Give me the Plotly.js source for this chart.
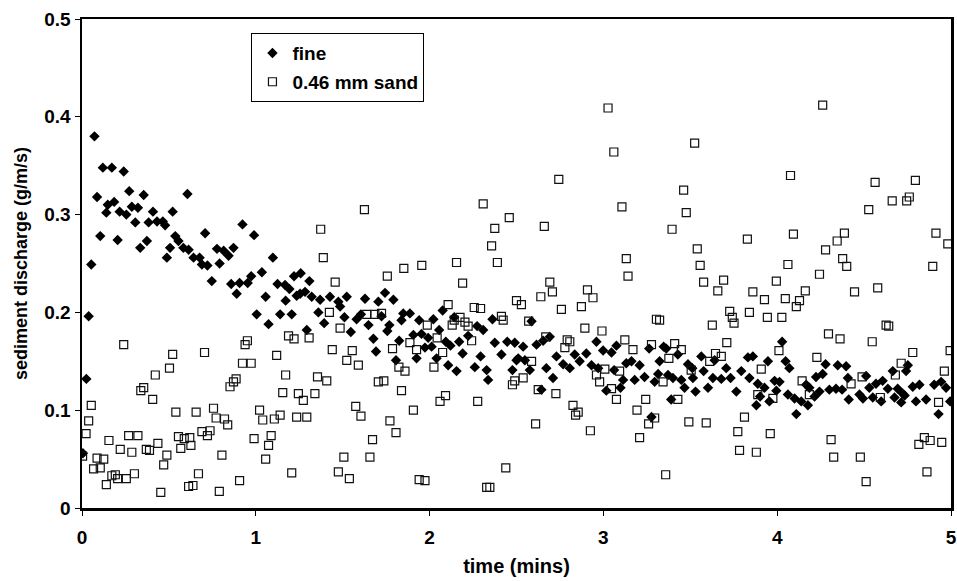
<!DOCTYPE html>
<html>
<head>
<meta charset="utf-8">
<script src="https://cdn.plot.ly/plotly-3.0.1.min.js"></script>
<style>
  html, body { margin: 0; padding: 0; background: #fff; }
  #chart { width: 957px; height: 581px; }
</style>
</head>
<body>
<div id="chart"></div>
<script>
// ---- data (time in seconds, discharge in g/m/s) ----
const seriesNames = ["fine", "0.46 mm sand"];

const fineTimeSec = [
  0.3,1.5,2.3,3.2,4.3,5.2,6.3,7.2,8.4,8.9,10.3,11.1,12.3,13,14.4,15.3,16.3,17.2,18.4,19.3,
  20.1,21.3,22.4,23,24.5,25.9,27.9,28.7,29.3,30.4,31.3,32.2,33.3,35,36.4,
  36.8,38.5,40.6,41.4,42.5,43.3,44.8,46.6,47.5,48.9,50.6,51.5,52.3,53.4,54.4,55.4,57.2,58.4,59.4,
  60.3,62.1,63.4,64.4,65.9,67.5,68.4,70.1,70.3,71.6,72.4,73.2,74.1,
  75.3,75.5,77,77.6,78.5,79.3,81.6,82.2,83.6,85.6,88.5,89.1,90.6,91.4,92.8,94.8,96.3,97.7,98.9,
  100.6,101.5,102.3,103.4,104.6,105.4,106.1,107.5,108.4,109.5,110.3,110.9,
  113.2,114.4,115.5,116.4,117.2,118.4,119.5,120.7,121.3,122.4,123.3,124.5,125.6,126.4,127.2,128.5,
  129.3,130.2,131.4,133.3,135.6,136.4,137.6,138.5,139.7,140.2,141.7,142.5,144.8,146.8,148.6,149.4,150,
  150.6,152.3,152.9,154.6,155.2,156.9,158.6,159.2,160.3,161.5,162.6,163.8,166.1,168.4,170.1,171.8,
  174.1,175.9,177.6,178.2,179.9,181,182.8,183.7,184.5,185.9,186.8,187.9,
  189.7,190.8,192.5,194.2,195.8,196.6,197.7,198.9,199.4,200.8,201.7,202.3,203.4,204,205.7,206.9,
  208,209.2,210.7,210.9,211.8,213.8,214.6,216.1,217.8,218.4,220.7,222.4,223.9,225.9,
  227.6,229.9,230.4,231.6,232.8,233.3,234.1,235.6,236.8,237.3,239.1,239.7,240.8,241.7,242.9,243.7,
  244.2,246,246.6,248.3,250,250.6,251.1,252.9,253.4,254.6,255.7,256.7,258,260.3,260.9,262.4,263.8,264.4,264.7,
  268.4,269.6,270.7,271.8,273,274.1,275.9,276.4,278.2,279.9,280.5,281.6,282.8,283.3,284,284.5,285.1,
  286.8,287.9,289.1,291.4,294.2,295.7,296.6,298.3,299.7
];
const fineDischarge = [
  0.056,0.132,0.196,0.249,0.380,0.318,0.278,0.348,0.302,0.310,0.348,0.313,0.274,0.303,0.344,0.300,0.324,0.308,0.292,0.307,
  0.266,0.320,0.273,0.292,0.303,0.293,0.293,0.289,0.256,0.266,0.303,0.278,0.273,0.266,0.321,
  0.264,0.256,0.256,0.249,0.281,0.248,0.232,0.265,0.250,0.263,0.258,0.229,0.266,0.219,0.230,0.290,0.230,0.237,0.279,
  0.198,0.241,0.216,0.188,0.256,0.229,0.198,0.228,0.212,0.224,0.198,0.237,0.217,
  0.219,0.240,0.221,0.182,0.232,0.216,0.200,0.213,0.189,0.216,0.211,0.206,0.195,0.216,0.180,0.193,0.198,0.214,0.187,
  0.173,0.160,0.211,0.196,0.220,0.181,0.187,0.213,0.151,0.171,0.192,0.199,
  0.199,0.177,0.153,0.192,0.178,0.164,0.174,0.165,0.193,0.153,0.182,0.202,0.170,0.146,0.166,0.195,
  0.140,0.170,0.158,0.176,0.144,0.186,0.155,0.182,0.141,0.131,0.193,0.169,0.157,0.170,0.141,0.169,0.151,
  0.153,0.165,0.151,0.141,0.191,0.167,0.121,0.171,0.143,0.175,0.133,0.155,0.147,0.143,0.157,0.150,
  0.158,0.146,0.170,0.143,0.161,0.120,0.159,0.141,0.166,0.123,0.131,0.148,
  0.150,0.131,0.146,0.134,0.163,0.093,0.129,0.137,0.150,0.165,0.163,0.136,0.111,0.133,0.157,0.131,
  0.123,0.147,0.143,0.133,0.119,0.155,0.140,0.123,0.133,0.151,0.132,0.143,0.133,0.119,
  0.140,0.154,0.133,0.155,0.105,0.127,0.114,0.123,0.150,0.109,0.130,0.120,0.129,0.170,0.150,0.116,
  0.143,0.112,0.096,0.109,0.126,0.105,0.123,0.114,0.134,0.119,0.137,0.147,0.121,0.122,0.146,0.121,0.145,0.133,0.111,
  0.116,0.112,0.135,0.123,0.113,0.127,0.109,0.130,0.122,0.140,0.113,0.122,0.108,0.117,0.115,0.140,0.146,
  0.124,0.109,0.126,0.111,0.126,0.096,0.129,0.123,0.109
];

const sandTimeSec = [
  0.2,1.4,2.3,3.2,4,5.2,6.3,7.5,8.4,9.3,10.3,11.5,12.3,13.2,14.4,15.3,16.1,17.2,18.1,19.3,
  20.3,21.3,22.2,23.3,24.4,25.3,26.2,27.2,28.2,29.3,30.2,31.3,32.4,33.3,34.1,35.3,36.8,
  37.2,37.6,38.3,39.4,40.2,41.4,42.3,43.3,44.2,45.4,46.3,47.4,48.3,49.2,50.3,51.1,52.3,53.2,54.4,
  55.4,56.3,57.1,58.4,59.4,61.3,62.4,63.4,64.4,65.3,66.4,67.2,68.4,69.3,70.3,71.3,72.4,73.2,74.1,74.7,
  76.4,77.6,78.4,80.4,81.3,82.4,83.3,84.5,85.4,86.4,87.4,88.5,89.1,90.4,91.4,92.3,93.3,94.5,95.4,96.3,
  97.5,98.3,99.4,100.3,101.1,102.3,103.4,104.2,105.4,106.3,107.2,108.4,109.4,110.3,111.1,111.5,
  113.2,114.4,115.5,116.4,117.3,118.4,119.2,121.5,122.6,123.6,124.5,125.5,126.4,127.8,128.5,129.3,
  130.5,131.4,132.2,133.3,134.5,135.4,136.6,137.6,138.5,139.7,140.8,141.4,142.5,143.4,144.8,145.4,
  146.3,147.5,148.6,149.4,150,
  151.7,152.3,154.2,155.2,156.6,157.5,158.4,159.6,160.1,161.5,162.4,163.6,164.6,165.5,166.7,167.5,
  168.4,169.5,170.4,171.3,172.4,173.6,174.5,175.5,176.4,177.6,178.7,179.5,180.5,181.6,182.8,183.6,
  184.5,185.6,186.4,187.4,187.9,188.5,
  190.2,191.6,192.5,194.6,195.6,196.6,197.7,198.3,199.4,200.6,201.5,202.6,203.7,204.6,205.7,206.9,
  207.7,208.6,209.5,210.3,211.5,212.4,213.4,214.6,215.5,216.7,217.6,218.7,219.5,220.7,221.5,222.6,
  223.6,224.5,225.1,226.4,227,
  228.7,229.7,230.4,231.6,232.8,233.3,234.5,235.6,236.6,237.6,238.5,239.7,240.6,241.6,242.8,243.7,
  244.6,245.6,246.6,247.7,248.6,249.7,251.1,253.7,254.6,255.7,256.7,257.7,258.6,259.5,260.7,261.7,
  262.6,263.2,264,
  265.5,266.7,268.7,269.3,270.7,271.6,272.8,273.8,274.7,275.6,277.6,278.5,279.7,280.8,282.8,284.7,
  285.6,286.8,287.7,288.9,290.8,291.7,292.8,293.7,294.8,295.7,296.8,297.7,298.9,299.7
];
const sandDischarge = [
  0.053,0.076,0.089,0.105,0.040,0.051,0.041,0.050,0.024,0.069,0.033,0.034,0.030,0.060,0.167,0.030,0.074,0.057,0.035,0.074,
  0.120,0.123,0.060,0.059,0.111,0.136,0.066,0.016,0.044,0.054,0.143,0.157,0.098,0.073,0.061,0.071,0.022,
  0.072,0.064,0.023,0.098,0.035,0.078,0.159,0.074,0.079,0.102,0.092,0.017,0.054,0.091,0.085,0.124,0.129,0.132,0.028,
  0.148,0.167,0.171,0.148,0.071,0.100,0.090,0.050,0.064,0.074,0.091,0.156,0.095,0.118,0.136,0.176,0.036,0.173,0.093,0.117,
  0.110,0.093,0.174,0.117,0.134,0.285,0.256,0.130,0.200,0.162,0.231,0.037,0.184,0.052,0.151,0.030,0.161,0.104,0.146,0.094,
  0.305,0.198,0.052,0.070,0.198,0.129,0.199,0.130,0.237,0.089,0.163,0.077,0.144,0.120,0.245,0.140,
  0.169,0.100,0.162,0.029,0.248,0.028,0.187,0.144,0.174,0.109,0.159,0.115,0.208,0.187,0.192,0.251,
  0.195,0.230,0.190,0.186,0.171,0.205,0.109,0.204,0.311,0.021,0.021,0.268,0.286,0.251,0.196,0.192,
  0.041,0.297,0.126,0.130,0.212,
  0.208,0.133,0.191,0.150,0.086,0.121,0.216,0.288,0.175,0.231,0.221,0.117,0.336,0.203,0.164,0.172,
  0.170,0.105,0.095,0.098,0.206,0.184,0.223,0.079,0.215,0.136,0.129,0.181,0.142,0.409,0.122,0.364,
  0.111,0.140,0.308,0.172,0.255,0.237,
  0.162,0.100,0.072,0.111,0.086,0.167,0.092,0.193,0.192,0.129,0.034,0.153,0.285,0.168,0.111,0.162,
  0.325,0.302,0.088,0.141,0.373,0.265,0.248,0.231,0.087,0.150,0.187,0.158,0.222,0.155,0.233,0.169,
  0.201,0.195,0.189,0.078,0.059,
  0.093,0.275,0.200,0.221,0.057,0.116,0.142,0.213,0.195,0.076,0.112,0.232,0.161,0.195,0.214,0.249,
  0.340,0.280,0.206,0.212,0.130,0.222,0.116,0.154,0.239,0.412,0.264,0.178,0.070,0.052,0.273,0.173,
  0.255,0.281,0.247,
  0.127,0.221,0.052,0.134,0.027,0.305,0.170,0.333,0.225,0.113,0.187,0.186,0.314,0.136,0.148,0.314,
  0.318,0.159,0.335,0.065,0.072,0.037,0.069,0.247,0.281,0.108,0.067,0.140,0.270,0.161
];

const xTickVals = [0, 1, 2, 3, 4, 5];
const yTickVals = [0, 0.1, 0.2, 0.3, 0.4, 0.5];
const xTitle = "time (mins)";
const yTitle = "sediment discharge (g/m/s)";

// ---- chart ----
const toMinutes = arr => arr.map(s => s / 60);
const FONT = "Liberation Sans, Arial, sans-serif";

const traces = [
  {
    type: "scatter", mode: "markers", name: seriesNames[0], legendgroup: "g1",
    x: toMinutes(fineTimeSec), y: fineDischarge,
    marker: { symbol: "diamond", size: 8, color: "#000", line: { width: 0 } }
  },
  {
    type: "scatter", mode: "markers", name: seriesNames[1], legendgroup: "g2",
    x: toMinutes(sandTimeSec), y: sandDischarge,
    marker: { symbol: "square-open", size: 8, color: "#111", line: { width: 1.2, color: "#111" } }
  }
];

const axisCommon = {
  showgrid: false, zeroline: false,
  showline: true, linecolor: "#000", linewidth: 2.5, mirror: true,
  ticks: "outside", ticklen: 5, tickwidth: 1, tickcolor: "#000",
  tickfont: { family: FONT, size: 19, color: "#000", weight: 700 }
};

const layout = {
  width: 957, height: 581,
  margin: { l: 82, r: 6, t: 19, b: 73 },
  paper_bgcolor: "#fff", plot_bgcolor: "#fff",
  font: { family: FONT, color: "#000" },
  showlegend: true,
  legend: {
    x: 0.195, y: 0.971, xanchor: "left", yanchor: "top",
    bgcolor: "#fff", bordercolor: "#000", borderwidth: 1,
    font: { family: FONT, size: 19, color: "#000", weight: 700 },
    traceorder: "grouped", tracegroupgap: 1, itemwidth: 30
  },
  xaxis: Object.assign({}, axisCommon, {
    range: [0, 5], tickvals: xTickVals, ticklabelstandoff: 6,
    title: { text: xTitle, font: { family: FONT, size: 20, color: "#000", weight: 700 }, standoff: 12 }
  }),
  yaxis: Object.assign({}, axisCommon, {
    range: [0, 0.5], tickvals: yTickVals,
    title: { text: yTitle, font: { family: FONT, size: 18, color: "#000", weight: 700 }, standoff: 12 }
  })
};

Plotly.newPlot("chart", traces, layout, { displayModeBar: false, staticPlot: true });
</script>
</body>
</html>
